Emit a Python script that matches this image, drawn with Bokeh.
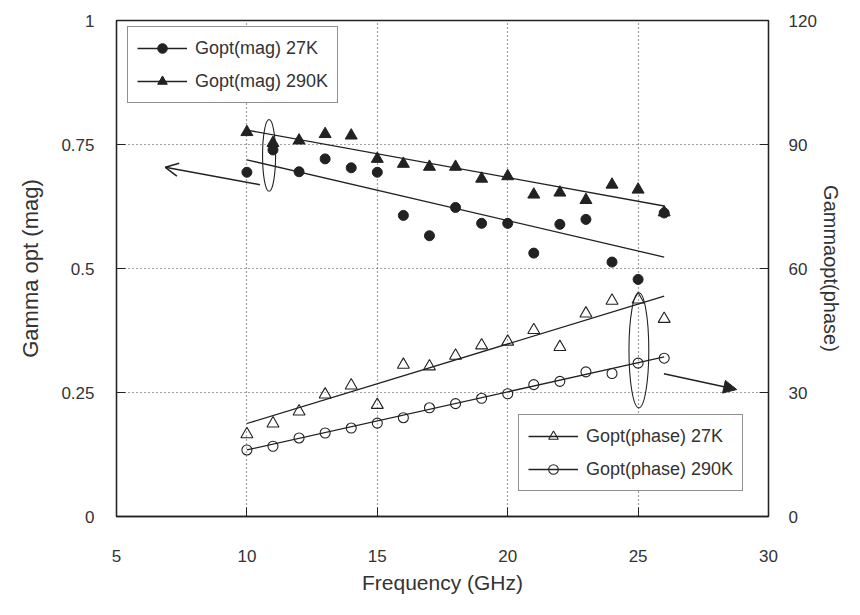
from bokeh.plotting import figure
from bokeh.models import (Range1d, LinearAxis, FixedTicker, CustomJSTickFormatter,
                          Legend, LegendItem, Arrow, OpenHead, NormalHead)
from bokeh.embed import file_html
from bokeh.resources import INLINE

# ---------------- data ----------------
freq = [10, 11, 12, 13, 14, 15, 16, 17, 18, 19, 20, 21, 22, 23, 24, 25, 26]
mag_27K = [0.694, 0.739, 0.695, 0.721, 0.703, 0.694, 0.607, 0.566, 0.623,
           0.591, 0.591, 0.531, 0.589, 0.599, 0.513, 0.478, 0.612]
mag_290K = [0.775, 0.753, 0.758, 0.771, 0.768, 0.721, 0.711, 0.705, 0.705,
            0.681, 0.686, 0.649, 0.653, 0.638, 0.669, 0.659, 0.613]
phase_27K = [19.9, 22.5, 25.4, 29.5, 31.7, 27.0, 36.7, 36.3, 38.9,
             41.4, 42.3, 45.1, 41.0, 49.1, 52.2, 52.5, 47.8]
phase_290K = [16.1, 17.0, 19.0, 20.2, 21.4, 22.6, 23.9, 26.3, 27.3,
              28.6, 29.7, 31.9, 32.7, 35.0, 34.6, 37.1, 38.3]

fit_x = [10, 26]
fit_mag_27K = [0.719, 0.523]
fit_mag_290K = [0.779, 0.626]
fit_phase_27K = [22.5, 53.3]
fit_phase_290K = [16.1, 38.6]

x_ticks = [5, 10, 15, 20, 25, 30]
mag_ticks = [0, 0.25, 0.5, 0.75, 1]
phase_ticks = [0, 30, 60, 90, 120]

labels_mag = ["Gopt(mag) 27K", "Gopt(mag) 290K"]
labels_phase = ["Gopt(phase) 27K", "Gopt(phase) 290K"]

# ---------------- style ----------------
FONT = "Liberation Sans"
INK = "#222222"
TXT = "#333333"

p = figure(width=844, height=599, output_backend="svg", toolbar_location=None,
           x_range=Range1d(5, 30), y_range=Range1d(0, 1),
           min_border_left=116, min_border_right=74, min_border_top=20,
           min_border_bottom=83)
p.extra_y_ranges = {"phase": Range1d(0, 120)}
p.background_fill_color = "white"
p.border_fill_color = "white"
p.outline_line_color = INK
p.outline_line_width = 1.3

fmt = CustomJSTickFormatter(code="return String(tick);")

def style_axis(ax, ticks, standoff, label_size):
    ax.ticker = FixedTicker(ticks=ticks, num_minor_ticks=5)
    ax.formatter = fmt
    ax.major_tick_in = 9
    ax.major_tick_out = 0
    ax.minor_tick_in = 5
    ax.minor_tick_out = 0
    ax.axis_line_color = INK
    ax.axis_line_width = 1.3
    ax.major_tick_line_color = INK
    ax.minor_tick_line_color = INK
    ax.major_label_text_font = FONT
    ax.major_label_text_font_size = "17px"
    ax.major_label_text_color = TXT
    ax.major_label_standoff = standoff
    ax.axis_label_text_font = FONT
    ax.axis_label_text_font_size = label_size
    ax.axis_label_text_font_style = "normal"
    ax.axis_label_text_color = TXT

style_axis(p.xaxis[0], x_ticks, 33, "21px")
p.xaxis[0].axis_label = "Frequency (GHz)"
p.xaxis[0].axis_label_standoff = 6

style_axis(p.yaxis[0], mag_ticks, 22, "22px")
p.yaxis[0].axis_label = "Gamma opt (mag)"
p.yaxis[0].axis_label_standoff = 15

right = LinearAxis(y_range_name="phase")
style_axis(right, phase_ticks, 20, "20px")
right.axis_label = "Gammaopt(phase)"
right.axis_label_standoff = 0
p.add_layout(right, "right")

# grid: dotted, interior only
p.xgrid.ticker = FixedTicker(ticks=x_ticks[1:-1])
p.ygrid.ticker = FixedTicker(ticks=mag_ticks[1:-1])
for g in (p.xgrid[0], p.ygrid[0]):
    g.grid_line_color = "#444444"
    g.grid_line_dash = "1 3"
    g.grid_line_width = 1.2

# ---------------- fit lines ----------------
l_m27 = p.line(fit_x, fit_mag_27K, line_color=INK, line_width=1.3)
l_m290 = p.line(fit_x, fit_mag_290K, line_color=INK, line_width=1.3)
l_p27 = p.line(fit_x, fit_phase_27K, line_color=INK, line_width=1.3,
               y_range_name="phase")
l_p290 = p.line(fit_x, fit_phase_290K, line_color=INK, line_width=1.3,
                y_range_name="phase")

# ---------------- markers ----------------
s_m27 = p.scatter(freq, mag_27K, marker="circle", size=10,
                  fill_color=INK, line_color=INK)
s_m290 = p.scatter(freq, mag_290K, marker="triangle", size=12,
                   fill_color=INK, line_color=INK)
s_p27 = p.scatter(freq, phase_27K, marker="triangle", size=12,
                  fill_color=None, line_color=INK, line_width=1.1,
                  y_range_name="phase")
s_p290 = p.scatter(freq, phase_290K, marker="circle", size=10,
                   fill_color=None, line_color=INK, line_width=1.1,
                   y_range_name="phase")

# ---------------- annotations ----------------
p.ellipse(x=[10.85], y=[0.728], width=[0.5], height=[0.145],
          fill_color=None, line_color=INK, line_width=1.1)
p.ellipse(x=[25.03], y=[0.335], width=[0.76], height=[0.232],
          fill_color=None, line_color=INK, line_width=1.1)

p.add_layout(Arrow(end=OpenHead(size=13, line_color=INK, line_width=1.5),
                   x_start=10.5, y_start=0.669, x_end=6.87, y_end=0.704,
                   line_color=INK, line_width=1.5))
p.add_layout(Arrow(end=NormalHead(size=13, fill_color=INK, line_color=INK),
                   x_start=25.99, y_start=0.288, x_end=28.78, y_end=0.256,
                   line_color=INK, line_width=1.5))

# ---------------- legends ----------------
def make_legend(items, loc):
    lg = Legend(items=items, location=loc, orientation="vertical",
                glyph_width=50, glyph_height=24, label_height=20,
                label_standoff=8, padding=9, spacing=9, margin=0,
                label_text_font=FONT, label_text_font_size="18px",
                label_text_color=TXT, border_line_color=INK,
                border_line_width=1.3, background_fill_color="white",
                background_fill_alpha=1.0)
    return lg

leg1 = make_legend([LegendItem(label=labels_mag[0], renderers=[l_m27, s_m27]),
                    LegendItem(label=labels_mag[1], renderers=[l_m290, s_m290])],
                   (11, 413))
leg2 = make_legend([LegendItem(label=labels_phase[0], renderers=[l_p27, s_p27]),
                    LegendItem(label=labels_phase[1], renderers=[l_p290, s_p290])],
                   (402, 25))
p.add_layout(leg1, "center")
p.add_layout(leg2, "center")

open("out.html", "w").write(file_html(p, INLINE))
